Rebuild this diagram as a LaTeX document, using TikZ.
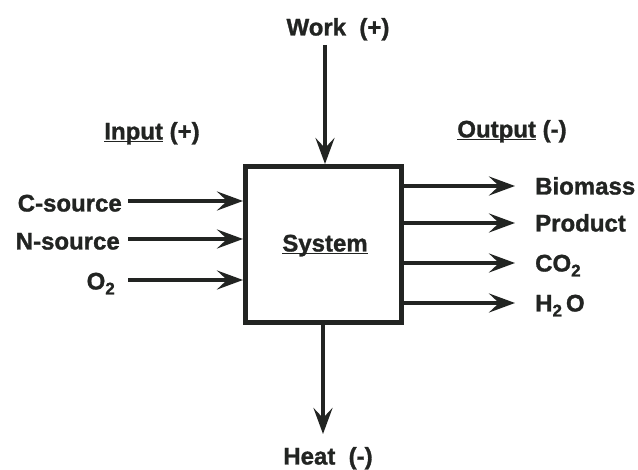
\documentclass[tikz,border=0pt]{standalone}
\usepackage{fontspec}
\setmainfont{Liberation Sans}[BoldFeatures={FakeBold=1.2}]
\usetikzlibrary{arrows.meta}
\definecolor{ink}{RGB}{34,36,34}
\newcommand{\myul}[1]{\setbox0\hbox{#1}\rlap{\rule[-3pt]{\wd0}{1.7pt}}\box0\relax}
\newcommand{\mysub}[1]{\raisebox{-5pt}{\fontsize{17}{20}\selectfont #1}}
\begin{document}
\begin{tikzpicture}[x=1pt,y=-1pt,
  lbl/.style={font=\bfseries\fontsize{24}{28}\selectfont, text=ink, inner sep=0pt, text height=17pt, text depth=0pt},
  arr/.style={draw=ink, line width=3.5pt, -{Stealth[length=26pt,width=19pt,inset=10pt]}},
  sysbox/.style={draw=ink, line width=5pt, minimum width=156pt, minimum height=156pt, inner sep=0pt}
]
\useasboundingbox (0,0) rectangle (638,470);
\fill[white] (0,0) rectangle (638,470);

\node[sysbox] (box) at (323.5,244.5) {};
\node[lbl] (sys) at (325,243) {\myul{System}};

% top / bottom
\node[lbl] (work) at (338,27) {Work\ \ (+)};
\node[lbl] (heat) at (328,456) {Heat\ \ (-)};
\coordinate (wtop) at (325,45);
\coordinate (hbot) at (323,434);
\draw[arr] (wtop) -- (wtop |- box.north);
\draw[arr] (hbot |- box.south) -- (hbot);

% inputs
\node[lbl] (inp) at (152,131) {\myul{Input} (+)};
\node[lbl, anchor=east] (csrc) at (122,203) {C-source};
\node[lbl, anchor=east] (nsrc) at (120,241) {N-source};
\node[lbl, anchor=east] (otwo) at (115,281) {O\mysub{2}};
\draw[arr] ([xshift=6pt,yshift=2pt]csrc.east) -- ([yshift=2pt]box.west |- csrc.east);
\draw[arr] ([xshift=8pt,yshift=2pt]nsrc.east) -- ([yshift=2pt]box.west |- nsrc.east);
\draw[arr] ([xshift=13pt,yshift=1pt]otwo.east) -- ([yshift=1pt]box.west |- otwo.east);

% outputs
\node[lbl] (outp) at (512,129) {\myul{Output} (-)};
\node[lbl, anchor=west] (bio) at (535,186) {Biomass};
\node[lbl, anchor=west] (prod) at (535,223) {Product};
\node[lbl, anchor=west] (cotwo) at (535,263) {CO\mysub{2}};
\node[lbl, anchor=west] (htwo) at (535,303) {H\mysub{2}\,O};
\draw[arr] (box.east |- bio.west) -- ([xshift=-20pt]bio.west);
\draw[arr] (box.east |- prod.west) -- ([xshift=-20pt]prod.west);
\draw[arr] (box.east |- cotwo.west) -- ([xshift=-20pt]cotwo.west);
\draw[arr] (box.east |- htwo.west) -- ([xshift=-20pt]htwo.west);
\end{tikzpicture}
\end{document}
